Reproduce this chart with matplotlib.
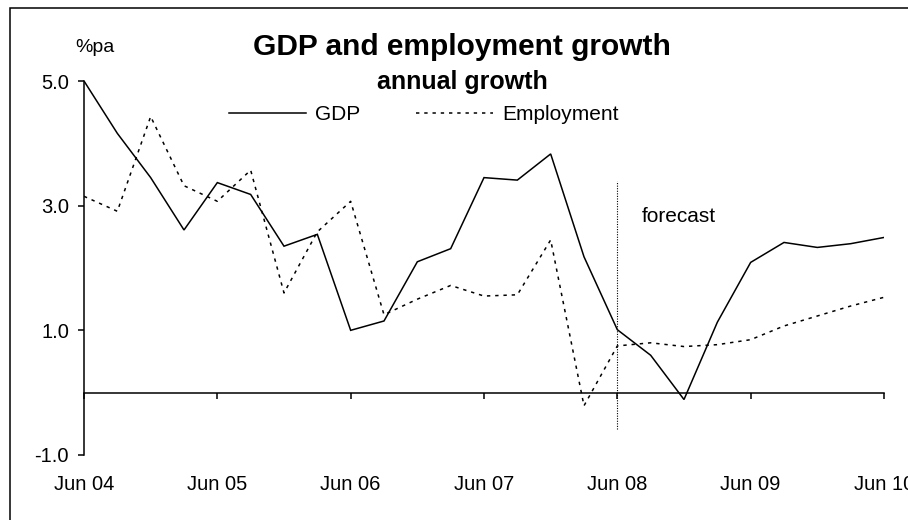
import matplotlib
matplotlib.use("Agg")
import matplotlib.pyplot as plt
from matplotlib.lines import Line2D
from matplotlib.patches import Rectangle
import numpy as np

plt.rcParams['font.family'] = ['Liberation Sans', 'DejaVu Sans']

quarters = ["Jun 04", "Sep 04", "Dec 04", "Mar 05",
            "Jun 05", "Sep 05", "Dec 05", "Mar 06",
            "Jun 06", "Sep 06", "Dec 06", "Mar 07",
            "Jun 07", "Sep 07", "Dec 07", "Mar 08",
            "Jun 08", "Sep 08", "Dec 08", "Mar 09",
            "Jun 09", "Sep 09", "Dec 09", "Mar 10",
            "Jun 10"]

gdp = [5.00, 4.16, 3.45, 2.61, 3.37, 3.18, 2.35, 2.54,
       1.00, 1.15, 2.10, 2.31, 3.45, 3.41, 3.83, 2.18,
       1.01, 0.60, -0.11, 1.13, 2.09, 2.41, 2.33, 2.39,
       2.49]

employment = [3.15, 2.91, 4.43, 3.32, 3.07, 3.57, 1.60, 2.58,
              3.07, 1.25, 1.50, 1.72, 1.55, 1.57, 2.45, -0.21,
              0.75, 0.80, 0.74, 0.77, 0.85, 1.07, 1.23, 1.39,
              1.53]

yticks = [-1.0, 1.0, 3.0, 5.0]
forecast_start = "Jun 08"

W, H = 908, 520
fig = plt.figure(figsize=(W / 100, H / 100), dpi=100)
ax = fig.add_axes([84 / W, 1 - 455 / H, 800 / W, 374 / H])

x = np.arange(len(quarters))
ax.plot(x, gdp, color='black', lw=1.1, solid_joinstyle='miter')
ax.plot(x, employment, color='black', lw=1.1, dashes=(2.2, 3.2))

fi = quarters.index(forecast_start)
ax.vlines(fi, -0.59, 3.39, colors='black', lw=0.8, linestyles=(0, (1, 1.3)))

ax.set_xlim(0, len(quarters) - 1)
ax.set_ylim(-1, 5)

jun_idx = [i for i, q in enumerate(quarters) if q.startswith("Jun")]
ax.set_xticks(jun_idx)
ax.set_xticklabels([quarters[i] for i in jun_idx])
ax.set_yticks(yticks)
ax.set_yticklabels([f"{v:.1f}" for v in yticks])

for s in ['top', 'right']:
    ax.spines[s].set_visible(False)
ax.spines['bottom'].set_position(('data', 0))
ax.spines['bottom'].set_linewidth(1.1)
ax.spines['left'].set_linewidth(1.1)
ax.tick_params(axis='x', direction='out', length=4, width=1.1, pad=55, labelsize=14.5)
ax.tick_params(axis='y', direction='out', length=4.3, width=1.1, pad=6.5, labelsize=14.5)

# titles
fig.text(462 / W, 1 - 55 / H, "GDP and employment growth", ha='center',
         va='baseline', fontsize=21.5, fontweight='bold')
fig.text(462 / W, 1 - 88.5 / H, "annual growth", ha='center',
         va='baseline', fontsize=18, fontweight='bold')
fig.text(75 / W, 1 - 51.7 / H, "%pa", ha='left', va='baseline', fontsize=14)
fig.text(642 / W, 1 - 222 / H, "forecast", ha='left', va='baseline', fontsize=15)

handles = [Line2D([], [], color='black', lw=1.1),
           Line2D([], [], color='black', lw=1.1, dashes=(2.2, 3.2))]
leg = fig.legend(handles, ["GDP", "Employment"], ncol=2, frameon=False,
                 loc='center left', bbox_to_anchor=(229 / W, 1 - 115 / H),
                 bbox_transform=fig.transFigure, borderpad=0, borderaxespad=0,
                 handlelength=3.7, handletextpad=0.42, columnspacing=2.7,
                 fontsize=15)

# outer frame
fig.patches.append(Rectangle((10 / W, -0.5), 2.0, 0.5 + (1 - 7.5 / H),
                             transform=fig.transFigure, fill=False,
                             edgecolor='black', lw=1.1))

fig.savefig("out.png", dpi=100)
